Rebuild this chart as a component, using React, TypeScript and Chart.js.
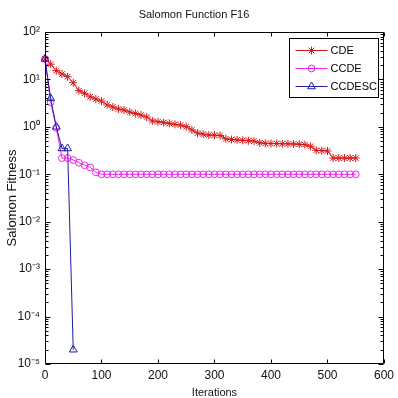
import React, { useEffect, useRef } from 'react';
import { Chart, registerables } from 'chart.js';
import { drawPoint } from 'chart.js/helpers';

Chart.register(...registerables);

const FONT = "'Liberation Sans', Arial, sans-serif";

const chartTitle = 'Salomon Function F16';
const xAxisTitle = 'Iterations';
const yAxisTitle = 'Salomon Fitness';

const iterations = [
  0, 10, 20, 30, 40, 50, 60, 70, 80, 90,
  100, 110, 120, 130, 140, 150, 160, 170, 180, 190,
  200, 210, 220, 230, 240, 250, 260, 270, 280, 290,
  300, 310, 320, 330, 340, 350, 360, 370, 380, 390,
  400, 410, 420, 430, 440, 450, 460, 470, 480, 490,
  500, 510, 520, 530, 540, 550,
];

const cdeValues = [
  27, 21, 15.3, 13, 11.4, 8.5, 5.8, 5.1, 4.3, 3.85,
  3.5, 2.9, 2.62, 2.38, 2.26, 2.05, 1.91, 1.77, 1.61, 1.33,
  1.28, 1.24, 1.19, 1.13, 1.09, 1.01, 0.86, 0.74, 0.7, 0.67,
  0.67, 0.655, 0.56, 0.54, 0.53, 0.52, 0.51, 0.5, 0.46, 0.45,
  0.445, 0.445, 0.44, 0.44, 0.435, 0.43, 0.42, 0.39, 0.32, 0.316,
  0.31, 0.22, 0.22, 0.22, 0.22, 0.22,
];

const ccdeValues = [
  27, 3.3, 0.95, 0.22, 0.22, 0.2, 0.175, 0.155, 0.14, 0.11,
  0.1, 0.1, 0.1, 0.1, 0.1, 0.1, 0.1, 0.1, 0.1, 0.1,
  0.1, 0.1, 0.1, 0.1, 0.1, 0.1, 0.1, 0.1, 0.1, 0.1,
  0.1, 0.1, 0.1, 0.1, 0.1, 0.1, 0.1, 0.1, 0.1, 0.1,
  0.1, 0.1, 0.1, 0.1, 0.1, 0.1, 0.1, 0.1, 0.1, 0.1,
  0.1, 0.1, 0.1, 0.1, 0.1, 0.1,
];

const ccdescIterations = [0, 10, 20, 30, 40, 50];
const ccdescValues = [27, 4.0, 1.0, 0.35, 0.35, 2e-5];

const seriesLabels = ['CDE', 'CCDE', 'CCDESC'];

const xTickValues = [0, 100, 200, 300, 400, 500, 600];
const yTickValues = [1e-5, 1e-4, 1e-3, 1e-2, 1e-1, 1, 10, 100];
const yTickLabels = ['10⁻⁵', '10⁻⁴', '10⁻³', '10⁻²', '10⁻¹', '10⁰', '10¹', '10²'];

const toPoints = (xs: number[], ys: number[]) => xs.map((x, i) => ({ x, y: ys[i] }));

const axesPlugin = {
  id: 'matlabAxes',
  afterDraw(chart: any) {
    const { ctx, chartArea: a, scales } = chart;
    const xs = scales.x;
    const ys = scales.y;
    ctx.save();
    ctx.strokeStyle = '#000';
    ctx.lineWidth = 1;
    const L = Math.round(a.left) + 0.5;
    const R = Math.round(a.right) - 0.5;
    const T = Math.round(a.top) + 0.5;
    const B = Math.round(a.bottom) - 0.5;
    ctx.beginPath();
    ctx.moveTo(L, T);
    ctx.lineTo(R, T);
    ctx.lineTo(R, B);
    ctx.lineTo(L, B);
    ctx.closePath();
    xTickValues.forEach((v) => {
      const px = Math.round(xs.getPixelForValue(v)) + 0.5;
      ctx.moveTo(px, B);
      ctx.lineTo(px, B - 4);
      ctx.moveTo(px, T);
      ctx.lineTo(px, T + 4);
    });
    yTickValues.forEach((v, i) => {
      const py = Math.round(ys.getPixelForValue(v)) + 0.5;
      ctx.moveTo(L, py);
      ctx.lineTo(L + 5, py);
      ctx.moveTo(R, py);
      ctx.lineTo(R - 5, py);
      if (i < yTickValues.length - 1) {
        for (let m = 2; m <= 9; m++) {
          const pm = Math.round(ys.getPixelForValue(v * m)) + 0.5;
          ctx.moveTo(L, pm);
          ctx.lineTo(L + 3, pm);
          ctx.moveTo(R, pm);
          ctx.lineTo(R - 3, pm);
        }
      }
    });
    ctx.stroke();
    ctx.restore();
  },
};

const legendPlugin = {
  id: 'matlabLegend',
  afterDraw(chart: any) {
    const { ctx, chartArea: a } = chart;
    const w = 89;
    const h = 59;
    const left = Math.round(a.right - 5.5 - w) + 0.5;
    const top = Math.round(a.top + 6) + 0.5;
    ctx.save();
    ctx.fillStyle = '#fff';
    ctx.fillRect(left, top, w, h);
    ctx.strokeStyle = '#000';
    ctx.lineWidth = 1;
    ctx.strokeRect(left, top, w, h);
    chart.data.datasets.forEach((ds: any, i: number) => {
      const cy = top + 12 + i * 18;
      const x0 = left + 6;
      const x1 = left + 38;
      ctx.strokeStyle = ds.borderColor;
      ctx.lineWidth = 1;
      ctx.beginPath();
      ctx.moveTo(x0, cy);
      ctx.lineTo(x1, cy);
      ctx.stroke();
      ctx.strokeStyle = ds.pointBorderColor;
      ctx.fillStyle = 'rgba(0,0,0,0)';
      drawPoint(ctx, { pointStyle: ds.pointStyle, radius: ds.pointRadius, borderWidth: 1, rotation: 0 } as any, (x0 + x1) / 2, cy);
      ctx.fillStyle = '#000';
      ctx.font = `11px ${FONT}`;
      ctx.textAlign = 'left';
      ctx.textBaseline = 'middle';
      ctx.fillText(ds.label, x1 + 3, cy);
    });
    ctx.restore();
  },
};

export default function App() {
  const ref = useRef<HTMLCanvasElement | null>(null);
  useEffect(() => {
    document.body.style.margin = '0';
    if (!ref.current) return;
    const red = '#d81818';
    const magenta = '#ee22ee';
    const blue = '#1c1ca8';
    const chart = new Chart(ref.current, {
      type: 'line',
      data: {
        datasets: [
          {
            label: seriesLabels[0],
            data: toPoints(iterations, cdeValues),
            borderColor: red,
            pointBorderColor: red,
            pointBackgroundColor: 'rgba(0,0,0,0)',
            pointStyle: 'star',
            pointRadius: 4,
            pointBorderWidth: 1,
            borderWidth: 1,
            tension: 0,
            order: 3,
            clip: false,
          },
          {
            label: seriesLabels[1],
            data: toPoints(iterations, ccdeValues),
            borderColor: magenta,
            pointBorderColor: magenta,
            pointBackgroundColor: 'rgba(0,0,0,0)',
            pointStyle: 'circle',
            pointRadius: 3.4,
            pointBorderWidth: 1,
            borderWidth: 1,
            tension: 0,
            order: 2,
            clip: false,
          },
          {
            label: seriesLabels[2],
            data: toPoints(ccdescIterations, ccdescValues),
            borderColor: blue,
            pointBorderColor: blue,
            pointBackgroundColor: 'rgba(0,0,0,0)',
            pointStyle: 'triangle',
            pointRadius: 4.5,
            pointBorderWidth: 1,
            borderWidth: 1,
            tension: 0,
            order: 1,
            clip: false,
          },
        ],
      } as any,
      options: {
        responsive: false,
        animation: false,
        events: [],
        layout: { padding: { top: 0, right: 10, left: 0, bottom: 0 } },
        plugins: {
          legend: { display: false },
          tooltip: { enabled: false },
          title: {
            display: true,
            text: chartTitle,
            color: '#111',
            font: { family: FONT, size: 11, weight: 'normal', lineHeight: 1 },
            padding: { top: 9.5, bottom: 11.5 },
          },
        },
        scales: {
          x: {
            type: 'linear',
            min: 0,
            max: 600,
            grid: { display: false, drawTicks: false },
            border: { display: false },
            afterBuildTicks: (s: any) => {
              s.ticks = xTickValues.map((v) => ({ value: v }));
            },
            afterFit: (s: any) => {
              s.height = 34;
            },
            ticks: {
              autoSkip: false,
              maxRotation: 0,
              padding: 4,
              color: '#111',
              font: { family: FONT, size: 12 },
            },
            title: {
              display: true,
              text: xAxisTitle,
              color: '#111',
              font: { family: FONT, size: 11, lineHeight: 1 },
              padding: { top: 0, bottom: 0 },
            },
          },
          y: {
            type: 'logarithmic',
            min: 1e-5,
            max: 100,
            grid: { display: false, drawTicks: false },
            border: { display: false },
            afterBuildTicks: (s: any) => {
              s.ticks = yTickValues.map((v) => ({ value: v }));
            },
            afterFit: (s: any) => {
              s.width = 45;
            },
            ticks: {
              autoSkip: false,
              padding: 5,
              color: '#111',
              font: { family: FONT, size: 12 },
              callback: (v: any) => {
                const i = yTickValues.findIndex((t) => Math.abs(Math.log10(t) - Math.log10(Number(v))) < 1e-6);
                return i >= 0 ? yTickLabels[i] : '';
              },
            },
            title: {
              display: true,
              text: yAxisTitle,
              color: '#111',
              font: { family: FONT, size: 13, lineHeight: 1 },
              padding: { top: 6, bottom: 0 },
            },
          },
        },
      } as any,
      plugins: [axesPlugin, legendPlugin],
    });
    return () => chart.destroy();
  }, []);
  return (
    <div style={{ width: 398, height: 398 }}>
      <canvas ref={ref} width={398} height={398} style={{ display: 'block' }} />
    </div>
  );
}
